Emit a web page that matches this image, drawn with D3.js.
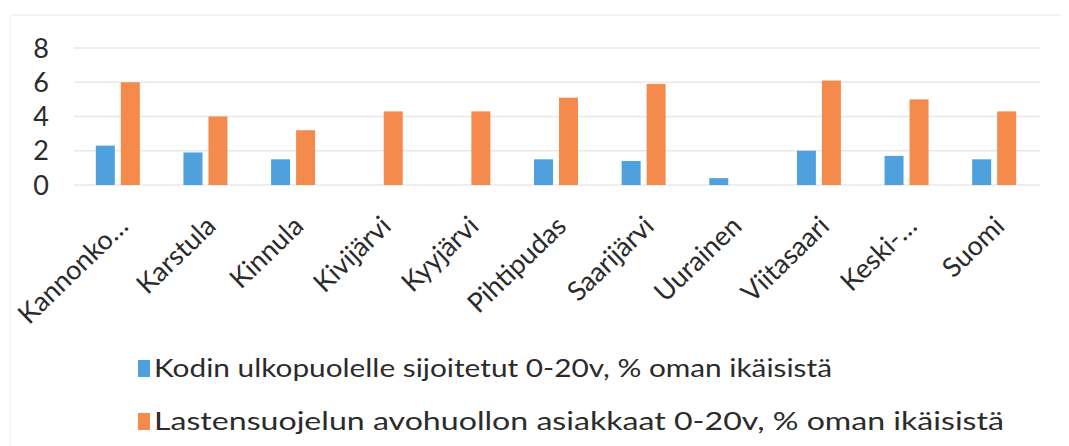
<!DOCTYPE html>
<html>
<head>
<meta charset="utf-8">
<style>
  body { margin: 0; background: #fff; }
  svg { display: block; }
  text { font-family: Lato, "Open Sans", sans-serif; fill: #2b2b2b; }
</style>
</head>
<body>
<script src="https://cdnjs.cloudflare.com/ajax/libs/d3/7.8.5/d3.min.js"></script>
<script>
const categories = ["Kannonko\u2026", "Karstula", "Kinnula", "Kivijärvi", "Kyyjärvi", "Pihtipudas",
  "Saarijärvi", "Uurainen", "Viitasaari", "Keski-\u2026", "Suomi"];
const sijoitetut = [2.3, 1.9, 1.5, null, null, 1.5, 1.4, 0.4, 2.0, 1.7, 1.5];
const avohuolto = [6.0, 4.0, 3.2, 4.3, 4.3, 5.1, 5.9, null, 6.1, 5.0, 4.3];
const yTicks = [0, 2, 4, 6, 8];
const seriesNames = [
  "Kodin ulkopuolelle sijoitetut 0-20v, % oman ikäisistä",
  "Lastensuojelun avohuollon asiakkaat 0-20v, % oman ikäisistä"
];
const colors = ["#4ea1dd", "#f48a4c"];

const W = 1069, H = 446;
const svg = d3.select("body").append("svg").attr("width", W).attr("height", H);

// faint frame of the scanned chart
svg.append("line").attr("x1", 12).attr("x2", 1060).attr("y1", 15).attr("y2", 15)
  .attr("stroke", "#e6e6e6");
svg.append("line").attr("x1", 10).attr("x2", 10).attr("y1", 15).attr("y2", 446)
  .attr("stroke", "#ececec");

const x = d3.scaleBand().domain(categories).range([74, 1038]);
const y = d3.scaleLinear().domain([0, 8]).range([185, 48]);

// gridlines
svg.append("g").selectAll("line").data(yTicks).join("line")
  .attr("x1", 74).attr("x2", 1040)
  .attr("y1", d => y(d)).attr("y2", d => y(d))
  .attr("stroke", "#e8e8e8").attr("stroke-width", 1.5);

// y labels
svg.append("g").selectAll("text").data(yTicks).join("text")
  .attr("x", 49).attr("y", d => y(d))
  .attr("dy", "0.36em")
  .attr("text-anchor", "end")
  .style("font-size", "27px")
  .text(d => d);

const barW = 19, off = 12.5;
[sijoitetut, avohuolto].forEach((vals, s) => {
  svg.append("g").selectAll("rect")
    .data(vals.map((v, i) => ({ v, c: categories[i] })).filter(d => d.v != null))
    .join("rect")
    .attr("x", d => x(d.c) + x.bandwidth() / 2 + (s === 0 ? -off : off) - barW / 2)
    .attr("y", d => y(d.v))
    .attr("width", barW)
    .attr("height", d => y(0) - y(d.v))
    .attr("fill", colors[s]);
});

// category labels
svg.append("g").selectAll("text").data(categories).join("text")
  .attr("transform", d => `translate(${x(d) + x.bandwidth() / 2 + 12},${228}) rotate(-44)`)
  .attr("text-anchor", "end")
  .style("font-size", "27px")
  .text(d => d);

// legend
const legend = svg.append("g");
seriesNames.forEach((name, i) => {
  const ly = 377 + i * 53;
  legend.append("rect").attr("x", 138).attr("y", ly - 17).attr("width", 12).attr("height", 17)
    .attr("fill", colors[i]);
  legend.append("text").attr("x", 154).attr("y", ly)
    .style("font-size", "25px")
    .attr("textLength", i === 0 ? 678 : 850)
    .attr("lengthAdjust", "spacingAndGlyphs")
    .text(name);
});
</script>
</body>
</html>
